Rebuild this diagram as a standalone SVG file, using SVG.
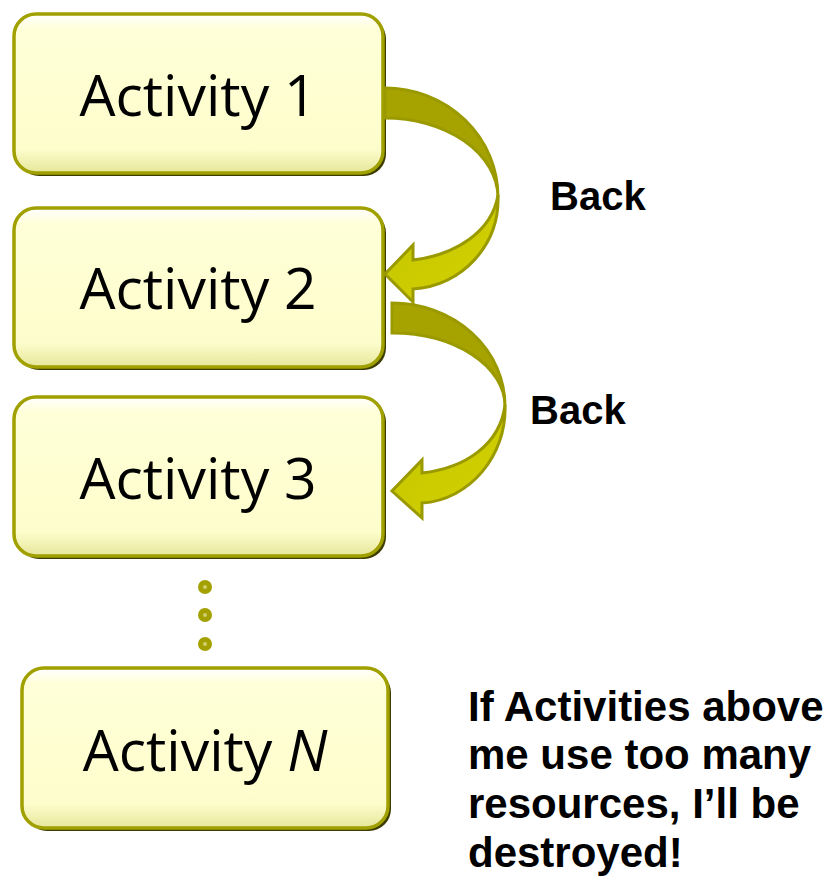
<svg xmlns="http://www.w3.org/2000/svg" width="832" height="880" viewBox="0 0 832 880">
  <defs>
    <linearGradient id="boxFill" x1="0" y1="0" x2="0" y2="1">
      <stop offset="0" stop-color="#ffffff"/>
      <stop offset="0.1" stop-color="#ffffd8"/>
      <stop offset="0.85" stop-color="#fdfdcc"/>
      <stop offset="1" stop-color="#e6e69a"/>
    </linearGradient>
    <linearGradient id="lowFill" x1="0" y1="0" x2="1" y2="1">
      <stop offset="0" stop-color="#c4c400"/>
      <stop offset="1" stop-color="#d2d200"/>
    </linearGradient>
    <style>
      .shadow { fill: #3d3d00; }
      .box { fill: url(#boxFill); stroke: #a0a000; stroke-width: 3.5; }
      .label { font-family: "Open Sans", "Liberation Sans", sans-serif; font-size: 57px; fill: #000; text-anchor: middle; }
      .back { font-family: "Liberation Sans", Arial, sans-serif; font-weight: bold; font-size: 40px; fill: #000; }
      .note { font-family: "Liberation Sans", Arial, sans-serif; font-weight: bold; font-size: 42px; fill: #000; }
      .arrowTop { fill: #a6a300; stroke: #9a9a00; stroke-width: 3; stroke-linejoin: miter; }
      .arrowLow { fill: url(#lowFill); stroke: #9a9a00; stroke-width: 3; stroke-linejoin: miter; }
      .dot { fill: #a3a000; }
      .dotc { fill: #cfcf70; }
    </style>
  </defs>

  <g id="activity1">
    <rect class="shadow" x="17" y="17" width="369" height="159" rx="22"/>
    <rect class="box" x="14" y="14" width="369" height="159" rx="22"/>
    <text class="label" x="198" y="116">Activity 1</text>
  </g>

  <g id="activity2">
    <rect class="shadow" x="17" y="211" width="369" height="159" rx="22"/>
    <rect class="box" x="14" y="208" width="369" height="159" rx="22"/>
    <text class="label" x="198" y="309">Activity 2</text>
  </g>

  <g id="activity3">
    <rect class="shadow" x="17" y="400" width="369" height="159" rx="22"/>
    <rect class="box" x="14" y="397" width="369" height="159" rx="22"/>
    <text class="label" x="198" y="499">Activity 3</text>
  </g>

  <g id="ellipsis">
    <circle class="dot" cx="205" cy="587" r="7"/>
    <circle class="dotc" cx="205" cy="587" r="2"/>
    <circle class="dot" cx="205" cy="615" r="7"/>
    <circle class="dotc" cx="205" cy="615" r="2"/>
    <circle class="dot" cx="205" cy="644" r="7"/>
    <circle class="dotc" cx="205" cy="644" r="2"/>
  </g>

  <g id="activityN">
    <rect class="shadow" x="25" y="671" width="366" height="160" rx="22"/>
    <rect class="box" x="22" y="668" width="366" height="160" rx="22"/>
    <text class="label" x="205" y="771">Activity <tspan font-style="italic">N</tspan></text>
  </g>

  <g id="connectors">
    <g id="back1">
      <path class="arrowLow" d="M498,195 C500,245 462,286 413,289 L413,302 L385,274 L413,245 L413,260 C455,255 492,232 498,195 Z"/>
      <path class="arrowTop" d="M385,88 A113,109 0 0 1 498,197 A113,80 0 0 0 385,118 Z"/>
    </g>
    <g id="back2">
      <path class="arrowLow" d="M505,405 C507,455 470,500 422,503 L422,518 L392,491 L422,460 L422,473 C465,468 500,445 505,405 Z"/>
      <path class="arrowTop" d="M392,303 A113,103 0 0 1 505,406 A113,73 0 0 0 392,333 Z"/>
    </g>
  </g>

  <text class="back" x="550" y="210">Back</text>
  <text class="back" x="530" y="424">Back</text>

  <g id="note">
    <text class="note" x="468" y="721">If Activities above</text>
    <text class="note" x="468" y="769">me use too many</text>
    <text class="note" x="468" y="818">resources, I’ll be</text>
    <text class="note" x="468" y="867">destroyed!</text>
  </g>
</svg>
